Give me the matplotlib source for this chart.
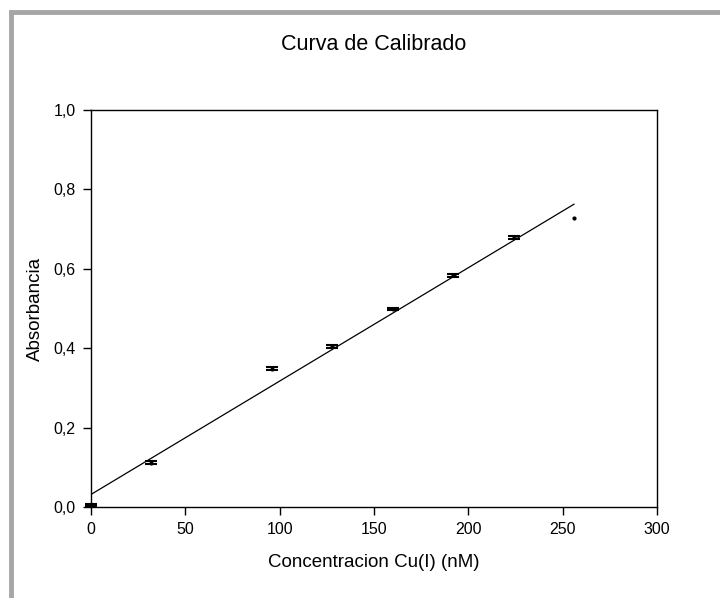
import numpy as np
import matplotlib
matplotlib.use("Agg")
import matplotlib.pyplot as plt
from matplotlib.patches import Rectangle

plt.rcParams['font.family'] = ['Liberation Sans', 'DejaVu Sans']

# data
conc = [0, 32, 96, 128, 160, 192, 224, 256]
absorb = [0.005, 0.112, 0.348, 0.405, 0.499, 0.584, 0.679, 0.728]
err = [0.003, 0.003, 0.004, 0.004, 0.003, 0.004, 0.004, 0.0]

xticks = [0, 50, 100, 150, 200, 250, 300]
yticks = [0.0, 0.2, 0.4, 0.6, 0.8, 1.0]
ytick_labels = ['0,0', '0,2', '0,4', '0,6', '0,8', '1,0']

fig = plt.figure(figsize=(7.2, 5.98), dpi=100)
ax = fig.add_axes([91/720, 1 - 507/598, 566/720, 397/598])

# grey frame (only top/left edges visible)
fig.patches.append(Rectangle((11/720, -0.2), 1.2, 1.2 - 12/598,
                             transform=fig.transFigure, fill=False,
                             edgecolor='#a6a6a6', linewidth=3.5))

# regression line
slope, icpt = np.polyfit(conc, absorb, 1)
xl = np.array([0, conc[-1]])
ax.plot(xl, icpt + slope * xl, color='black', linewidth=0.9)

x = np.array(conc)
y = np.array(absorb)
e = np.array(err)
has_err = e > 0
ax.errorbar(x[has_err], y[has_err], yerr=e[has_err], fmt='o', color='black',
            markersize=2, ecolor='black', elinewidth=1.2, capsize=4,
            capthick=1.5, clip_on=False)
ax.plot(x[~has_err], y[~has_err], 'o', color='black', markersize=2)

ax.set_xlim(0, 300)
ax.set_ylim(0, 1.0)
ax.set_xticks(xticks)
ax.set_yticks(yticks)
ax.set_yticklabels(ytick_labels)
ax.tick_params(direction='out', length=6, width=1, labelsize=11.5,
               top=False, right=False, pad=5)
for s in ax.spines.values():
    s.set_linewidth(1)

ax.set_xlabel('Concentracion Cu(I) (nM)', fontsize=13.5, labelpad=12)
ax.set_ylabel('Absorbancia', fontsize=13.5, labelpad=7)
ax.set_title('Curva de Calibrado', fontsize=15.5, pad=43)

fig.savefig('out.png', dpi=100)
